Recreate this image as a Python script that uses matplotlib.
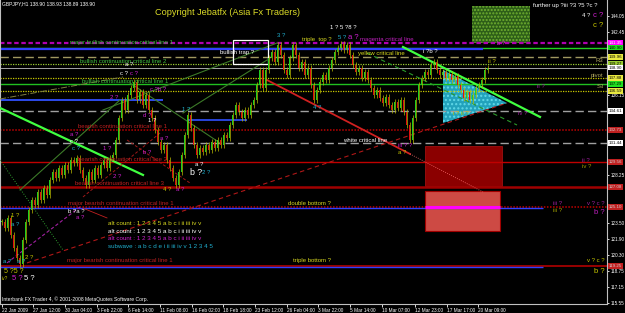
import matplotlib.pyplot as plt
from matplotlib.patches import Rectangle, Polygon
from matplotlib.transforms import blended_transform_factory

plt.rcParams['font.family'] = ['Liberation Sans', 'DejaVu Sans']

# GBPJPY H1 closes, one bar every 3 chart units
closes = [
    123.61, 123.02, 124.01, 122.32, 121.03, 120.04, 119.45, 121.83, 123.61, 124.80,
    125.79, 125.29, 126.58, 125.79, 126.98, 126.29, 127.77, 128.56, 127.97, 128.96,
    128.27, 129.26, 128.76, 129.75, 129.46, 129.95, 128.76, 127.97, 127.28, 128.56,
    127.77, 128.96, 128.27, 129.26, 129.75, 128.96, 129.95, 130.25, 131.74, 133.92,
    135.70, 134.71, 136.20, 136.89, 137.48, 135.70, 136.49, 135.20, 136.20, 134.71,
    133.92, 132.73, 131.54, 130.75, 131.24, 129.75, 128.96, 127.97, 127.28, 128.56,
    130.25, 132.23, 134.21, 132.93, 131.24, 130.25, 130.94, 130.55, 131.24, 130.75,
    131.54, 130.94, 131.74, 131.24, 132.23, 131.93, 133.22, 134.21, 135.20, 134.51,
    133.92, 134.71, 134.21, 135.20, 135.70, 137.19, 138.67, 136.89, 138.67, 139.86,
    140.46, 139.47, 141.15, 140.16, 138.67, 138.18, 139.86, 141.15, 140.16, 138.87,
    139.47, 138.18, 138.87, 137.19, 135.70, 136.69, 137.48, 138.18, 137.68, 138.87,
    139.66, 140.46, 140.85, 141.25, 140.65, 141.15, 140.16, 139.17, 138.48, 138.87,
    137.88, 138.48, 137.68, 136.89, 136.20, 136.69, 135.90, 135.40, 136.00, 135.20,
    134.71, 135.50, 134.91, 135.70, 134.51, 133.22, 131.74, 133.92, 135.70, 137.19,
    137.88, 138.48, 138.18, 139.17, 139.47, 138.67, 138.18, 138.48, 137.88, 138.28,
    137.68, 138.08, 137.19, 136.69, 135.90, 136.49, 135.70, 136.20, 136.89, 137.19,
    137.68, 138.67, 138.90,
]
bar_step = 3

time_ticks = [2, 33, 65, 97, 128, 160, 192, 223, 255, 287, 318, 350, 382, 415, 447, 478]
time_labels = ['22 Jan 2009', '27 Jan 12:00', '30 Jan 04:00', '3 Feb 22:00', '6 Feb 14:00',
               '11 Feb 08:00', '16 Feb 02:00', '18 Feb 18:00', '23 Feb 12:00', '26 Feb 04:00',
               '3 Mar 22:00', '5 Mar 14:00', '10 Mar 07:00', '12 Mar 23:00', '17 Mar 17:00',
               '20 Mar 09:00']
price_ticks = [144.05, 142.45, 136.15, 128.25, 123.50, 121.90, 120.30, 118.75, 117.15, 115.55]

# horizontal levels: price, colour, linestyle, width, x end
levels = [
    (141.35, '#b000b0', (0, (2, 1.2)), 1.6, 607),
    (140.90, '#20d020', '-', 1.0, 607),
    (140.80, '#3040ff', '-', 1.6, 483),
    (139.96, '#a09860', (0, (6, 3)), 1.0, 607),
    (139.27, '#9acd32', (0, (1, 1)), 0.9, 607),
    (138.90, '#c0c0c0', '-', 0.6, 607),
    (137.88, '#c8c800', (0, (1, 1)), 0.9, 607),
    (137.29, '#20c020', '-', 1.0, 607),
    (136.59, '#c8c800', (0, (1, 1)), 0.9, 607),
    (135.70, '#3050ff', '-', 1.3, 163),
    (134.61, '#a0a0a0', (0, (6, 3)), 1.0, 607),
    (132.73, '#c00000', (0, (1, 1)), 1.1, 607),
    (131.44, '#a0a0a0', (0, (6, 3)), 1.0, 607),
    (129.56, '#c00000', '-', 1.0, 607),
    (127.08, '#a00000', '-', 1.8, 607),
    (125.10, '#c00000', (0, (1, 1)), 1.1, 607),
    (124.95, '#3040ff', '-', 1.0, 543),
    (119.25, '#c00000', '-', 1.1, 607),
    (119.10, '#3040ff', '-', 1.0, 543),
]
blue_segments = [(133.72, 187, 247)]

# price boxes on the right scale: price, background, text colour
price_boxes = [
    (141.35, '#ff00ff', 'white'), (140.90, '#20e020', 'black'), (139.96, '#e8e840', 'black'),
    (139.27, '#9acd32', 'black'), (138.90, 'white', 'black'), (137.88, '#e8e840', 'black'),
    (137.29, '#20e020', 'black'), (136.59, '#e8e840', 'black'), (134.61, 'white', 'black'),
    (132.73, '#c02020', '#d0d0d0'), (131.44, 'white', 'black'), (129.56, '#c02020', '#d0d0d0'),
    (127.08, '#c02020', '#d0d0d0'), (125.10, '#c02020', '#d0d0d0'), (119.25, '#c02020', '#d0d0d0'),
]

# trend lines: x0, p0, x1, p1, colour, width, style
trend_lines = [
    (403, 140.95, 540, 134.02, '#40ff40', 1.6, '-'),
    (0, 134.91, 143, 128.27, '#40ff40', 1.6, '-'),
    (267, 137.68, 410, 130.35, '#d02020', 1.3, '-'),
    (410, 130.35, 483, 126.58, '#ff7070', 0.6, ':'),
    (27, 119.55, 507, 135.40, '#b01818', 0.8, (0, (4, 3))),
    (7, 119.55, 80, 125.10, '#a020a0', 0.8, (0, (3, 2))),
    (83, 124.98, 107, 124.01, '#c02020', 0.6, '-'),
    (20, 126.78, 120, 135.70, '#3c7a28', 0.8, '-'),
    (103, 134.71, 277, 141.35, '#3c7a28', 0.8, '-'),
    (130, 137.38, 220, 131.44, '#3c7a28', 0.8, '-'),
    (183, 134.41, 267, 139.66, '#3c7a28', 0.8, '-'),
    (367, 140.36, 517, 133.22, '#2a9a2a', 0.8, (0, (4, 3))),
    (0, 129.75, 63, 120.83, '#30a030', 0.7, ':'),
    (0, 135.80, 123, 137.98, '#808040', 0.7, '-.'),
    (127, 131.74, 190, 127.47, '#a01818', 0.7, (0, (3, 2))),
    (83, 126.09, 160, 132.43, '#a01818', 0.7, (0, (3, 2))),
]

# text objects: x, price, text, colour, size
labels = [
    (155, 144.42, 'Copyright Jebatfx (Asia Fx Traders)', '#dcdc28', 6.6),
    (2, 145.21, 'GBPJPY,H1 138.90 138.93 138.89 138.90', 'white', 3.6),
    (2, 115.98, 'Interbank FX Trader 4, \u00a9 2001-2008 MetaQuotes Software Corp.', 'white', 3.6),
    (70, 141.35, 'major bullish continuation critical line 1', '#40c040', 4.3),
    (80, 139.56, 'bullish continuation critical line 2', '#40c040', 4.3),
    (82, 137.58, 'bullish continuation critical line 1', '#40c040', 4.3),
    (78, 133.12, 'bearish continuation critical line 1', '#c02020', 4.3),
    (78, 129.85, 'bearish continuation critical line 2', '#c02020', 4.3),
    (75, 127.47, 'bearish continuation critical line 3', '#c02020', 4.3),
    (68, 125.49, 'major bearish continuation critical line 1', '#c02020', 4.3),
    (67, 119.75, 'major bearish continuation critical line 1', '#c02020', 4.3),
    (288, 125.49, 'double bottom ?', '#d8d820', 4.3),
    (293, 119.75, 'triple bottom ?', '#d8d820', 4.3),
    (343, 131.64, 'white critical line', 'white', 4.3),
    (358, 140.26, 'yellow critical line', '#d8d820', 4.3),
    (360, 141.65, 'magenta critical line', '#c020c0', 4.3),
    (302, 141.74, 'triple  top ?', '#d8d820', 4.3),
    (220, 140.36, 'bullish trap ?', 'white', 4.3),
    (596, 139.66, 'R3', '#b0a860', 4.3),
    (591, 138.08, 'pivot', '#b0a860', 4.3),
    (597, 136.99, 'S3', '#b0a860', 4.3),
    (108, 123.41, 'alt count : 1 2 3 4 5 a b c i ii iii iv v', '#d8d820', 4.5),
    (108, 122.62, 'alt count : 1 2 3 4 5 a b c i ii iii iv v', 'white', 4.5),
    (108, 121.93, 'alt count : 1 2 3 4 5 a b c i ii iii iv v', '#d020d0', 4.5),
    (108, 121.13, 'subwave : a b c d e i ii iii iv v 1 2 3 4 5', '#20b0d0', 4.5),
    (533, 145.02, 'further up ?iii ?3 ?5 ?c ?', 'white', 4.3),
    (582, 144.12, '4 ?', 'white', 4.3),
    (593, 144.12, 'c ?', '#d020d0', 5.5),
    (593, 143.13, 'c ?', '#c8c800', 5.5),
    (330, 142.84, '1 ? 5 ?8 ?', 'white', 4.3),
    (338, 141.94, '5 ?', '#20b0d0', 4.3),
    (348, 141.94, 'a ?', '#d020d0', 5.5),
    (277, 142.14, '3 ?', '#20b0d0', 4.3),
    (423, 140.46, 'i ?b ?', 'white', 4.3),
    (488, 139.56, 'ii ?', '#c8c800', 4.3),
    (497, 141.25, 'b ?', '#d020d0', 4.3),
    (537, 136.99, 'ii ?', '#a020a0', 4.3),
    (518, 134.41, 'iv ?', '#a020a0', 4.3),
    (453, 134.41, 'i ? ii ?', '#c8c800', 4.3),
    (313, 134.91, '4 ?', '#20b0d0', 4.3),
    (398, 131.14, 'iii ? ?', '#d020d0', 4.3),
    (398, 130.45, 'a ?', '#c8c800', 4.3),
    (582, 129.75, 'ii ?', '#a020a0', 4.3),
    (582, 129.06, 'iv ?', '#a0a000', 4.3),
    (553, 125.49, 'iii ?', '#a020a0', 4.3),
    (553, 124.70, 'iii ?', '#a0a000', 4.3),
    (587, 125.49, 'v ? c ?', '#a020a0', 4.3),
    (594, 124.50, 'b ?', '#c020c0', 5.5),
    (587, 119.75, 'v ? c ?', '#c8c800', 4.3),
    (594, 118.75, 'b ?', '#c8c800', 5.5),
    (125, 139.17, 'a ?', 'white', 4.3),
    (120, 138.28, 'c ?', 'white', 4.3),
    (130, 138.28, 'c ?', '#d020d0', 4.3),
    (150, 136.69, 'c ?b ?', '#d020d0', 4.3),
    (110, 135.90, '2 ?', '#d020d0', 4.3),
    (70, 132.23, 'a ?', '#d020d0', 4.3),
    (70, 131.54, 'c ?', 'white', 4.3),
    (72, 130.94, 'c ?', '#20b0d0', 4.3),
    (103, 130.94, '1 ?', '#d020d0', 4.3),
    (113, 128.07, '2 ?', '#d020d0', 4.3),
    (143, 134.20, 'd ?', '#d020d0', 4.3),
    (148, 133.62, '1 ?', 'white', 4.3),
    (143, 130.45, 'b ?', '#d020d0', 4.3),
    (160, 131.93, 'a ?', '#d020d0', 4.3),
    (182, 134.71, '1 ?', '#20b0d0', 4.3),
    (195, 129.26, 'a ?', 'white', 4.3),
    (190, 128.56, 'b ?', 'white', 6.3),
    (202, 128.56, '2 ?', '#20b0d0', 4.3),
    (163, 126.78, '4 ?', '#c8c800', 4.3),
    (176, 126.78, 'a ?', '#d020d0', 4.3),
    (68, 124.60, 'b ?a ?', 'white', 4.3),
    (76, 124.01, 'a ?', '#d020d0', 4.3),
    (11, 124.21, '1 ?', '#c8c800', 4.3),
    (11, 123.31, 'a ?', '#20b0d0', 4.3),
    (25, 120.04, '2 ?', '#c8c800', 4.3),
    (3, 119.65, 'a ?', '#20b0d0', 4.3),
    (17, 119.65, 'a ?', '#20b0d0', 4.3),
    (4, 118.75, '5 ?5 ?', '#c8c800', 5.0),
    (2, 117.96, 'iv?', '#c8c800', 3.5),
    (12, 117.96, '5 ?', '#d020d0', 5.5),
    (24, 117.96, '5 ?', 'white', 5.5),
]

fig = plt.figure(figsize=(6.25, 3.13), dpi=100, facecolor='black')
ax = fig.add_axes([0.0, 9 / 313, 607 / 625, 304 / 313])
ax.set_facecolor('black')
ax.set_xlim(0, 607)
ax.set_ylim(115.48, 145.61)

# zones and boxes
ax.add_patch(Rectangle((472, 141.35), 58, 3.67, facecolor='#2e5e18', edgecolor='#70b030',
                       hatch='.....', lw=0, zorder=1))
ax.add_patch(Rectangle((425, 127.18), 77, 3.96, facecolor='#8b0000', edgecolor='#a01010',
                       lw=0.6, zorder=1))
ax.add_patch(Rectangle((425, 122.72), 75, 3.96, facecolor='#cd4a44', edgecolor='#a00000',
                       lw=0.8, zorder=1))
ax.add_patch(Polygon([(443, 138.67), (443, 133.42), (507, 135.40)], closed=True,
                     facecolor='#22a2bc', edgecolor='#60d8e8', hatch='....', lw=0, zorder=1))
ax.add_patch(Rectangle((233, 139.27), 35, 2.38, fill=False, edgecolor='white', lw=0.9, zorder=4))

for price, col, ls, lw, xend in levels:
    ax.hlines(price, 0, xend, colors=col, linestyles=ls, linewidth=lw, zorder=2)
for price, x0, x1 in blue_segments:
    ax.hlines(price, x0, x1, colors='#3050ff', linewidth=1.2, zorder=2)
ax.hlines(125.10, 425, 500, colors='#ff00ff', linewidth=2.2, zorder=3)

for x0, p0, x1, p1, col, lw, ls in trend_lines:
    ax.plot([x0, x1], [p0, p1], color=col, lw=lw, ls=ls, zorder=3)

# candles
opens = [closes[0]] + closes[:-1]
for i, (o, c) in enumerate(zip(opens, closes)):
    x = i * bar_step + 1.5
    lo, hi = min(o, c), max(o, c)
    ax.vlines(x, lo - 0.3, hi + 0.3, colors='#b8b800', linewidth=0.5, zorder=4)
    ax.bar(x, max(hi - lo, 0.06), bottom=lo, width=1.6,
           color='#20d020' if c >= o else '#e01010', zorder=5, linewidth=0)

for x, p, s, col, fs in labels:
    ax.text(x, p, s, color=col, fontsize=fs, ha='left', va='center', zorder=6)

# axes styling
ax.spines['top'].set_visible(False)
for side in ['left', 'right', 'bottom']:
    ax.spines[side].set_color('#c0c0c0')
    ax.spines[side].set_linewidth(0.8)

ax.set_xticks(time_ticks)
ax.set_xticklabels(time_labels, ha='left')
ax.tick_params(axis='x', colors='white', labelsize=3.4, length=2, width=0.6, pad=1)
ax.yaxis.tick_right()
ax.set_yticks(price_ticks)
ax.set_yticklabels([f'{p:.2f}' for p in price_ticks])
ax.tick_params(axis='y', colors='white', labelsize=3.3, length=1.5, width=0.6, pad=0.8)

trans = blended_transform_factory(ax.transAxes, ax.transData)
for price, bg, fg in price_boxes:
    ax.text(1.003, price, f'{price:.2f}', transform=trans, fontsize=3.2, color=fg,
            ha='left', va='center', clip_on=False, zorder=7,
            bbox=dict(boxstyle='square,pad=0.15', fc=bg, ec='none'))

fig.savefig('out.png', dpi=100, facecolor='black')
